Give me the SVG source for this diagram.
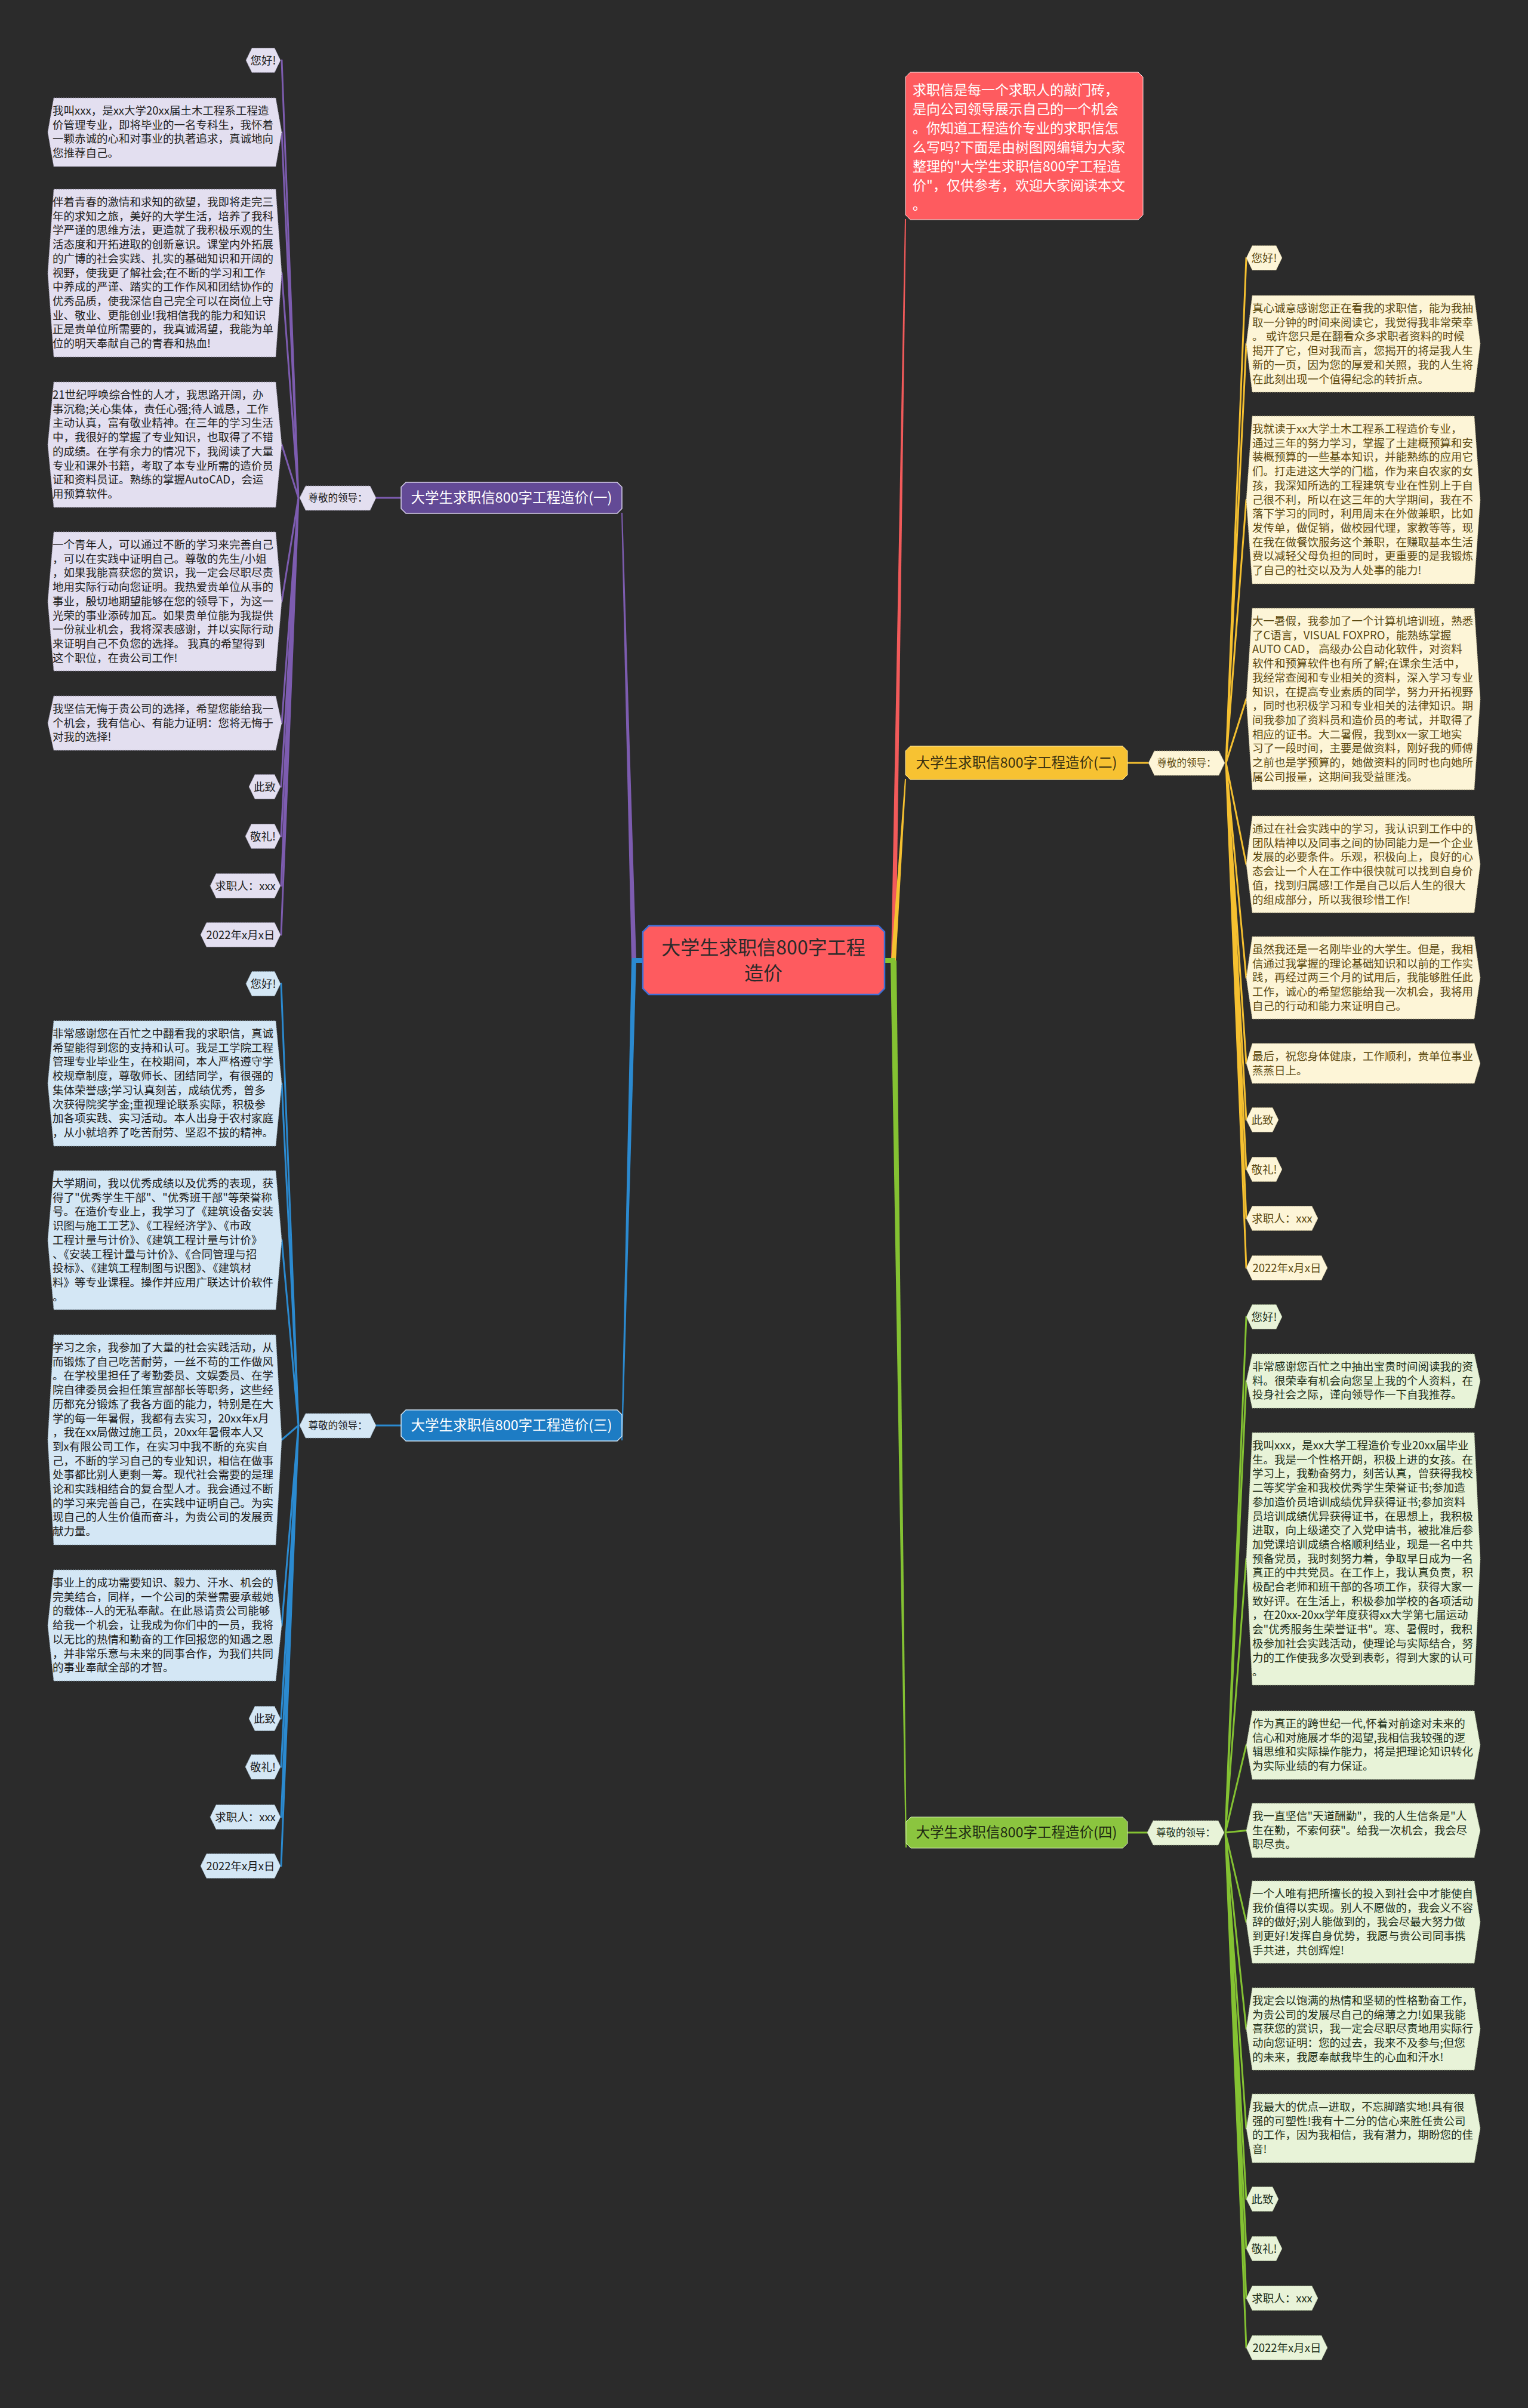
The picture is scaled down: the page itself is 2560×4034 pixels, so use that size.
<svg xmlns="http://www.w3.org/2000/svg" width="2560" height="4034" viewBox="0 0 2560 4034">
<style>
text{font-family:"Noto Sans CJK SC","Noto Sans",sans-serif}
.lt{font-size:18.5px}
.sm{font-size:18.5px;text-anchor:middle}
.sr{font-size:16.5px;text-anchor:middle}
.br{font-size:23.5px;text-anchor:middle}
.pL{fill:#e3dff0;stroke:#8f8aa0;stroke-width:1;stroke-dasharray:2 2}
.pT{fill:#222}
.bL{fill:#d4e7f5;stroke:#8aa0b0;stroke-width:1;stroke-dasharray:2 2}
.bT{fill:#1c1c1c}
.yL{fill:#fdf5d7;stroke:#b0a680;stroke-width:1;stroke-dasharray:2 2}
.yT{fill:#5c4a12}
.gL{fill:#e8f3d8;stroke:#9aab88;stroke-width:1;stroke-dasharray:2 2}
.gT{fill:#22301a}
.cp{stroke:#7d5cb0;stroke-width:3;stroke-linecap:round;fill:none}
.cb{stroke:#2b8ad0;stroke-width:3;stroke-linecap:round;fill:none}
.cy{stroke:#f5c030;stroke-width:3;stroke-linecap:round;fill:none}
.cg{stroke:#84c232;stroke-width:3;stroke-linecap:round;fill:none}
</style>
<rect width="2560" height="4034" fill="#2b2b2b"/>

<g id="connectors">
<polygon points="1493,1609 1501,1609 1518,367 1516,367" fill="#f25a5a"/>
<polygon points="1493,1609 1501,1609 1518,1305 1516,1305" fill="#f5c030"/>
<polygon points="1492,1609 1502,1609 1519,3095 1517,3095" fill="#84c232"/>
<polygon points="1058,1609 1066,1609 1043,859 1041,859" fill="#7d5cb0"/>
<polygon points="1058,1609 1066,1609 1043,2413 1041,2413" fill="#2b8ad0"/>
<rect x="1482" y="1605" width="18" height="8" fill="#84c232"/>
<rect x="1059" y="1605" width="18" height="8" fill="#2b8ad0"/>
<line x1="630" y1="834" x2="672" y2="834" class="cp"/>
<line x1="630" y1="2388" x2="672" y2="2388" class="cb"/>
<line x1="1889" y1="1278" x2="1924" y2="1278" class="cy"/>
<line x1="1889" y1="3070" x2="1922" y2="3070" class="cg"/>
<path class="cp" d="M500 834L472 101M500 834L472 221.5M500 834L472 457.5M500 834L472 745M500 834L472 1007.5M500 834L472 1211.5M500 834L471 1318M500 834L471 1401M500 834L471 1484M500 834L471 1566"/>
<path class="cb" d="M500 2388L471 1648M500 2388L472 1815M500 2388L472 2077.5M500 2388L472 2412M500 2388L472 2723M500 2388L471 2879M500 2388L471 2960M500 2388L471 3044M500 2388L471 3126"/>
<path class="cy" d="M2054 1278L2088 432M2054 1278L2088 576M2054 1278L2088 837.5M2054 1278L2088 1171M2054 1278L2088 1448M2054 1278L2088 1638M2054 1278L2088 1781.5M2054 1278L2088 1876M2054 1278L2088 1959M2054 1278L2088 2041M2054 1278L2088 2124"/>
<path class="cg" d="M2053 3070L2088 2206M2053 3070L2088 2313.5M2053 3070L2088 2611.5M2053 3070L2088 2923.5M2053 3070L2088 3066.5M2053 3070L2088 3220M2053 3070L2088 3399M2053 3070L2088 3565.5M2053 3070L2088 3684M2053 3070L2088 3767M2053 3070L2088 3850M2053 3070L2088 3933"/>
</g>

<g id="root">
<polygon points="1087,1551 1472,1551 1482,1561 1482,1656 1472,1666 1087,1666 1077,1656 1077,1561" fill="#fe5b5f" stroke="#3d6fd6" stroke-width="2.5"/>
<text x="1279" y="1599" font-size="32" text-anchor="middle" fill="#2a2a2a">大学生求职信800字工程</text>
<text x="1279" y="1642" font-size="32" text-anchor="middle" fill="#2a2a2a">造价</text>
</g>

<g id="intro">
<polygon points="1525,121 1907,121 1915,129 1915,360 1907,368 1525,368 1517,360 1517,129" fill="#fe5b5f" stroke="#f4e0e0" stroke-width="1"/>
<text font-size="23" fill="#ffffff" x="1529" y="159"><tspan x="1529" dy="0">求职信是每一个求职人的敲门砖，</tspan><tspan x="1529" dy="32">是向公司领导展示自己的一个机会</tspan><tspan x="1529" dy="32">。你知道工程造价专业的求职信怎</tspan><tspan x="1529" dy="32">么写吗?下面是由树图网编辑为大家</tspan><tspan x="1529" dy="32">整理的"大学生求职信800字工程造</tspan><tspan x="1529" dy="32">价"，仅供参考，欢迎大家阅读本文</tspan><tspan x="1529" dy="32">。</tspan></text>
</g>

<!-- Branch 1 (purple) -->
<g id="b1">
<polygon points="680,808 1034,808 1042,816 1042,852 1034,860 680,860 672,852 672,816" fill="#634a96" stroke="#d8d0ec" stroke-width="1.5"/>
<text class="br" x="857" y="842" fill="#ffffff">大学生求职信800字工程造价(一)</text>
</g>
<g id="b1-s">
<polygon points="512,814 620,814 630,834 620,855 512,855 502,834" class="pL"/>
<text class="sr pT" x="566" y="840">尊敬的领导：</text>
</g>
<g id="b1-1"><polygon points="422,80.5 460,80.5 470,101 460,121.5 422,121.5 412,101" class="pL"/><text class="sm pT" x="441" y="107.5">您好!</text></g>
<g id="b1-2"><polygon points="90,164 462,164 472,221.5 462,279 90,279 80,221.5" class="pL"/>
<text class="lt pT" x="88" y="192"><tspan x="88" dy="0">我叫xxx，是xx大学20xx届土木工程系工程造</tspan><tspan x="88" dy="23.7">价管理专业，即将毕业的一名专科生，我怀着</tspan><tspan x="88" dy="23.7">一颗赤诚的心和对事业的执著追求，真诚地向</tspan><tspan x="88" dy="23.7">您推荐自己。</tspan></text></g>
<g id="b1-3"><polygon points="90,317 462,317 472,457.5 462,598 90,598 80,457.5" class="pL"/>
<text class="lt pT" x="88" y="345"><tspan x="88" dy="0">伴着青春的激情和求知的欲望，我即将走完三</tspan><tspan x="88" dy="23.7">年的求知之旅，美好的大学生活，培养了我科</tspan><tspan x="88" dy="23.7">学严谨的思维方法，更造就了我积极乐观的生</tspan><tspan x="88" dy="23.7">活态度和开拓进取的创新意识。课堂内外拓展</tspan><tspan x="88" dy="23.7">的广博的社会实践、扎实的基础知识和开阔的</tspan><tspan x="88" dy="23.7">视野，使我更了解社会;在不断的学习和工作</tspan><tspan x="88" dy="23.7">中养成的严谨、踏实的工作作风和团结协作的</tspan><tspan x="88" dy="23.7">优秀品质，使我深信自己完全可以在岗位上守</tspan><tspan x="88" dy="23.7">业、敬业、更能创业!我相信我的能力和知识</tspan><tspan x="88" dy="23.7">正是贵单位所需要的，我真诚渴望，我能为单</tspan><tspan x="88" dy="23.7">位的明天奉献自己的青春和热血!</tspan></text></g>
<g id="b1-4"><polygon points="90,640 462,640 472,745 462,850 90,850 80,745" class="pL"/>
<text class="lt pT" x="88" y="668"><tspan x="88" dy="0">21世纪呼唤综合性的人才，我思路开阔，办</tspan><tspan x="88" dy="23.7">事沉稳;关心集体，责任心强;待人诚恳，工作</tspan><tspan x="88" dy="23.7">主动认真，富有敬业精神。在三年的学习生活</tspan><tspan x="88" dy="23.7">中，我很好的掌握了专业知识，也取得了不错</tspan><tspan x="88" dy="23.7">的成绩。在学有余力的情况下，我阅读了大量</tspan><tspan x="88" dy="23.7">专业和课外书籍，考取了本专业所需的造价员</tspan><tspan x="88" dy="23.7">证和资料员证。熟练的掌握AutoCAD，会运</tspan><tspan x="88" dy="23.7">用预算软件。</tspan></text></g>
<g id="b1-5"><polygon points="90,891 462,891 472,1007.5 462,1124 90,1124 80,1007.5" class="pL"/>
<text class="lt pT" x="88" y="919"><tspan x="88" dy="0">一个青年人，可以通过不断的学习来完善自己</tspan><tspan x="88" dy="23.7">，可以在实践中证明自己。尊敬的先生/小姐</tspan><tspan x="88" dy="23.7">，如果我能喜获您的赏识，我一定会尽职尽责</tspan><tspan x="88" dy="23.7">地用实际行动向您证明。我热爱贵单位从事的</tspan><tspan x="88" dy="23.7">事业，殷切地期望能够在您的领导下，为这一</tspan><tspan x="88" dy="23.7">光荣的事业添砖加瓦。如果贵单位能为我提供</tspan><tspan x="88" dy="23.7">一份就业机会，我将深表感谢，并以实际行动</tspan><tspan x="88" dy="23.7">来证明自己不负您的选择。 我真的希望得到</tspan><tspan x="88" dy="23.7">这个职位，在贵公司工作!</tspan></text></g>
<g id="b1-6"><polygon points="90,1166 462,1166 472,1211.5 462,1257 90,1257 80,1211.5" class="pL"/>
<text class="lt pT" x="88" y="1194"><tspan x="88" dy="0">我坚信无悔于贵公司的选择，希望您能给我一</tspan><tspan x="88" dy="23.7">个机会，我有信心、有能力证明：您将无悔于</tspan><tspan x="88" dy="23.7">对我的选择!</tspan></text></g>
<g id="b1-7"><polygon points="427,1297.5 460,1297.5 470,1318 460,1338.5 427,1338.5 417,1318" class="pL"/><text class="sm pT" x="443.5" y="1324.5">此致</text></g>
<g id="b1-8"><polygon points="421,1380.5 460,1380.5 470,1401 460,1421.5 421,1421.5 411,1401" class="pL"/><text class="sm pT" x="440.5" y="1407.5">敬礼!</text></g>
<g id="b1-9"><polygon points="362,1463.5 460,1463.5 470,1484 460,1504.5 362,1504.5 352,1484" class="pL"/><text class="sm pT" x="411" y="1490.5">求职人：xxx</text></g>
<g id="b1-10"><polygon points="346,1545.5 460,1545.5 470,1566 460,1586.5 346,1586.5 336,1566" class="pL"/><text class="sm pT" x="403" y="1572.5">2022年x月x日</text></g>

<!-- Branch 3 (blue) -->
<g id="b3">
<polygon points="680,2362 1034,2362 1042,2370 1042,2406 1034,2414 680,2414 672,2406 672,2370" fill="#1d7cc4" stroke="#cfe3f3" stroke-width="1.5"/>
<text class="br" x="857" y="2396" fill="#ffffff">大学生求职信800字工程造价(三)</text>
</g>
<g id="b3-s">
<polygon points="512,2368 620,2368 630,2388 620,2409 512,2409 502,2388" class="bL"/>
<text class="sr bT" x="566" y="2394">尊敬的领导：</text>
</g>
<g id="b3-1"><polygon points="422,1627.5 460,1627.5 470,1648 460,1668.5 422,1668.5 412,1648" class="bL"/><text class="sm bT" x="441" y="1654.5">您好!</text></g>
<g id="b3-2"><polygon points="90,1710 462,1710 472,1815 462,1920 90,1920 80,1815" class="bL"/>
<text class="lt bT" x="88" y="1738"><tspan x="88" dy="0">非常感谢您在百忙之中翻看我的求职信，真诚</tspan><tspan x="88" dy="23.7">希望能得到您的支持和认可。我是工学院工程</tspan><tspan x="88" dy="23.7">管理专业毕业生，在校期间，本人严格遵守学</tspan><tspan x="88" dy="23.7">校规章制度，尊敬师长、团结同学，有很强的</tspan><tspan x="88" dy="23.7">集体荣誉感;学习认真刻苦，成绩优秀，曾多</tspan><tspan x="88" dy="23.7">次获得院奖学金;重视理论联系实际，积极参</tspan><tspan x="88" dy="23.7">加各项实践、实习活动。本人出身于农村家庭</tspan><tspan x="88" dy="23.7">，从小就培养了吃苦耐劳、坚忍不拔的精神。</tspan></text></g>
<g id="b3-3"><polygon points="90,1961 462,1961 472,2077.5 462,2194 90,2194 80,2077.5" class="bL"/>
<text class="lt bT" x="88" y="1989"><tspan x="88" dy="0">大学期间，我以优秀成绩以及优秀的表现，获</tspan><tspan x="88" dy="23.7">得了"优秀学生干部"、"优秀班干部"等荣誉称</tspan><tspan x="88" dy="23.7">号。在造价专业上，我学习了《建筑设备安装</tspan><tspan x="88" dy="23.7">识图与施工工艺》、《工程经济学》、《市政</tspan><tspan x="88" dy="23.7">工程计量与计价》、《建筑工程计量与计价》</tspan><tspan x="88" dy="23.7">、《安装工程计量与计价》、《合同管理与招</tspan><tspan x="88" dy="23.7">投标》、《建筑工程制图与识图》、《建筑材</tspan><tspan x="88" dy="23.7">料》等专业课程。操作并应用广联达计价软件</tspan><tspan x="88" dy="23.7">。</tspan></text></g>
<g id="b3-4"><polygon points="90,2236 462,2236 472,2412 462,2588 90,2588 80,2412" class="bL"/>
<text class="lt bT" x="88" y="2264"><tspan x="88" dy="0">学习之余，我参加了大量的社会实践活动，从</tspan><tspan x="88" dy="23.7">而锻炼了自己吃苦耐劳，一丝不苟的工作做风</tspan><tspan x="88" dy="23.7">。在学校里担任了考勤委员、文娱委员、在学</tspan><tspan x="88" dy="23.7">院自律委员会担任策宣部部长等职务，这些经</tspan><tspan x="88" dy="23.7">历都充分锻炼了我各方面的能力，特别是在大</tspan><tspan x="88" dy="23.7">学的每一年暑假，我都有去实习，20xx年x月</tspan><tspan x="88" dy="23.7">，我在xx局做过施工员，20xx年暑假本人又</tspan><tspan x="88" dy="23.7">到x有限公司工作，在实习中我不断的充实自</tspan><tspan x="88" dy="23.7">己，不断的学习自己的专业知识，相信在做事</tspan><tspan x="88" dy="23.7">处事都比别人更剩一筹。现代社会需要的是理</tspan><tspan x="88" dy="23.7">论和实践相结合的复合型人才。我会通过不断</tspan><tspan x="88" dy="23.7">的学习来完善自己，在实践中证明自己。为实</tspan><tspan x="88" dy="23.7">现自己的人生价值而奋斗，为贵公司的发展贡</tspan><tspan x="88" dy="23.7">献力量。</tspan></text></g>
<g id="b3-5"><polygon points="90,2630 462,2630 472,2723 462,2816 90,2816 80,2723" class="bL"/>
<text class="lt bT" x="88" y="2658"><tspan x="88" dy="0">事业上的成功需要知识、毅力、汗水、机会的</tspan><tspan x="88" dy="23.7">完美结合，同样，一个公司的荣誉需要承载她</tspan><tspan x="88" dy="23.7">的载体--人的无私奉献。在此恳请贵公司能够</tspan><tspan x="88" dy="23.7">给我一个机会，让我成为你们中的一员，我将</tspan><tspan x="88" dy="23.7">以无比的热情和勤奋的工作回报您的知遇之恩</tspan><tspan x="88" dy="23.7">，并非常乐意与未来的同事合作，为我们共同</tspan><tspan x="88" dy="23.7">的事业奉献全部的才智。</tspan></text></g>
<g id="b3-6"><polygon points="427,2858.5 460,2858.5 470,2879 460,2899.5 427,2899.5 417,2879" class="bL"/><text class="sm bT" x="443.5" y="2885.5">此致</text></g>
<g id="b3-7"><polygon points="421,2939.5 460,2939.5 470,2960 460,2980.5 421,2980.5 411,2960" class="bL"/><text class="sm bT" x="440.5" y="2966.5">敬礼!</text></g>
<g id="b3-8"><polygon points="362,3023.5 460,3023.5 470,3044 460,3064.5 362,3064.5 352,3044" class="bL"/><text class="sm bT" x="411" y="3050.5">求职人：xxx</text></g>
<g id="b3-9"><polygon points="346,3105.5 460,3105.5 470,3126 460,3146.5 346,3146.5 336,3126" class="bL"/><text class="sm bT" x="403" y="3132.5">2022年x月x日</text></g>

<!-- Branch 2 (yellow) -->
<g id="b2">
<polygon points="1525,1250 1881,1250 1889,1258 1889,1298 1881,1306 1525,1306 1517,1298 1517,1258" fill="#f7c232" stroke="#f9e4a0" stroke-width="1"/>
<text class="br" x="1703" y="1286" fill="#3a3010">大学生求职信800字工程造价(二)</text>
</g>
<g id="b2-s">
<polygon points="1934,1258 2042,1258 2052,1278 2042,1299 1934,1299 1924,1278" class="yL"/>
<text class="sr yT" x="1988" y="1284">尊敬的领导：</text>
</g>
<g id="b2-1"><polygon points="2098,411.5 2138,411.5 2148,432 2138,452.5 2098,452.5 2088,432" class="yL"/><text class="sm yT" x="2118" y="438.5">您好!</text></g>
<g id="b2-2"><polygon points="2098,495 2470,495 2480,576 2470,657 2098,657 2088,576" class="yL"/>
<text class="lt yT" x="2098" y="523"><tspan x="2098" dy="0">真心诚意感谢您正在看我的求职信，能为我抽</tspan><tspan x="2098" dy="23.7">取一分钟的时间来阅读它，我觉得我非常荣幸</tspan><tspan x="2098" dy="23.7">。 或许您只是在翻看众多求职者资料的时候</tspan><tspan x="2098" dy="23.7">揭开了它，但对我而言，您揭开的将是我人生</tspan><tspan x="2098" dy="23.7">新的一页，因为您的厚爱和关照，我的人生将</tspan><tspan x="2098" dy="23.7">在此刻出现一个值得纪念的转折点。</tspan></text></g>
<g id="b2-3"><polygon points="2098,697 2470,697 2480,837.5 2470,978 2098,978 2088,837.5" class="yL"/>
<text class="lt yT" x="2098" y="725"><tspan x="2098" dy="0">我就读于xx大学土木工程系工程造价专业，</tspan><tspan x="2098" dy="23.7">通过三年的努力学习，掌握了土建概预算和安</tspan><tspan x="2098" dy="23.7">装概预算的一些基本知识，并能熟练的应用它</tspan><tspan x="2098" dy="23.7">们。打走进这大学的门槛，作为来自农家的女</tspan><tspan x="2098" dy="23.7">孩，我深知所选的工程建筑专业在性别上于自</tspan><tspan x="2098" dy="23.7">己很不利，所以在这三年的大学期间，我在不</tspan><tspan x="2098" dy="23.7">落下学习的同时，利用周末在外做兼职，比如</tspan><tspan x="2098" dy="23.7">发传单，做促销，做校园代理，家教等等，现</tspan><tspan x="2098" dy="23.7">在我在做餐饮服务这个兼职，在赚取基本生活</tspan><tspan x="2098" dy="23.7">费以减轻父母负担的同时，更重要的是我锻炼</tspan><tspan x="2098" dy="23.7">了自己的社交以及为人处事的能力!</tspan></text></g>
<g id="b2-4"><polygon points="2098,1019 2470,1019 2480,1171 2470,1323 2098,1323 2088,1171" class="yL"/>
<text class="lt yT" x="2098" y="1047"><tspan x="2098" dy="0">大一暑假，我参加了一个计算机培训班，熟悉</tspan><tspan x="2098" dy="23.7">了C语言，VISUAL FOXPRO，能熟练掌握</tspan><tspan x="2098" dy="23.7">AUTO CAD， 高级办公自动化软件，对资料</tspan><tspan x="2098" dy="23.7">软件和预算软件也有所了解;在课余生活中，</tspan><tspan x="2098" dy="23.7">我经常查阅和专业相关的资料，深入学习专业</tspan><tspan x="2098" dy="23.7">知识，在提高专业素质的同学，努力开拓视野</tspan><tspan x="2098" dy="23.7">，同时也积极学习和专业相关的法律知识。期</tspan><tspan x="2098" dy="23.7">间我参加了资料员和造价员的考试，并取得了</tspan><tspan x="2098" dy="23.7">相应的证书。大二暑假，我到xx一家工地实</tspan><tspan x="2098" dy="23.7">习了一段时间，主要是做资料，刚好我的师傅</tspan><tspan x="2098" dy="23.7">之前也是学预算的，她做资料的同时也向她所</tspan><tspan x="2098" dy="23.7">属公司报量，这期间我受益匪浅。</tspan></text></g>
<g id="b2-5"><polygon points="2098,1367 2470,1367 2480,1448 2470,1529 2098,1529 2088,1448" class="yL"/>
<text class="lt yT" x="2098" y="1395"><tspan x="2098" dy="0">通过在社会实践中的学习，我认识到工作中的</tspan><tspan x="2098" dy="23.7">团队精神以及同事之间的协同能力是一个企业</tspan><tspan x="2098" dy="23.7">发展的必要条件。乐观，积极向上，良好的心</tspan><tspan x="2098" dy="23.7">态会让一个人在工作中很快就可以找到自身价</tspan><tspan x="2098" dy="23.7">值，找到归属感!工作是自己以后人生的很大</tspan><tspan x="2098" dy="23.7">的组成部分，所以我很珍惜工作!</tspan></text></g>
<g id="b2-6"><polygon points="2098,1569 2470,1569 2480,1638 2470,1707 2098,1707 2088,1638" class="yL"/>
<text class="lt yT" x="2098" y="1597"><tspan x="2098" dy="0">虽然我还是一名刚毕业的大学生。但是，我相</tspan><tspan x="2098" dy="23.7">信通过我掌握的理论基础知识和以前的工作实</tspan><tspan x="2098" dy="23.7">践，再经过两三个月的试用后，我能够胜任此</tspan><tspan x="2098" dy="23.7">工作，诚心的希望您能给我一次机会，我将用</tspan><tspan x="2098" dy="23.7">自己的行动和能力来证明自己。</tspan></text></g>
<g id="b2-7"><polygon points="2098,1748 2470,1748 2480,1781.5 2470,1815 2098,1815 2088,1781.5" class="yL"/>
<text class="lt yT" x="2098" y="1776"><tspan x="2098" dy="0">最后，祝您身体健康，工作顺利，贵单位事业</tspan><tspan x="2098" dy="23.7">蒸蒸日上。</tspan></text></g>
<g id="b2-8"><polygon points="2098,1855.5 2132,1855.5 2142,1876 2132,1896.5 2098,1896.5 2088,1876" class="yL"/><text class="sm yT" x="2115" y="1882.5">此致</text></g>
<g id="b2-9"><polygon points="2098,1938.5 2138,1938.5 2148,1959 2138,1979.5 2098,1979.5 2088,1959" class="yL"/><text class="sm yT" x="2118" y="1965.5">敬礼!</text></g>
<g id="b2-10"><polygon points="2098,2020.5 2198,2020.5 2208,2041 2198,2061.5 2098,2061.5 2088,2041" class="yL"/><text class="sm yT" x="2148" y="2047.5">求职人：xxx</text></g>
<g id="b2-11"><polygon points="2098,2103.5 2214,2103.5 2224,2124 2214,2144.5 2098,2144.5 2088,2124" class="yL"/><text class="sm yT" x="2156" y="2130.5">2022年x月x日</text></g>

<!-- Branch 4 (green) -->
<g id="b4">
<polygon points="1526,3044 1881,3044 1889,3052 1889,3088 1881,3096 1526,3096 1518,3088 1518,3052" fill="#8bc53f" stroke="#d6ebb8" stroke-width="1"/>
<text class="br" x="1703" y="3078" fill="#1f2a12">大学生求职信800字工程造价(四)</text>
</g>
<g id="b4-s">
<polygon points="1932,3050 2041,3050 2051,3070 2041,3091 1932,3091 1922,3070" class="gL"/>
<text class="sr gT" x="1986.5" y="3076">尊敬的领导：</text>
</g>
<g id="b4-1"><polygon points="2098,2185.5 2138,2185.5 2148,2206 2138,2226.5 2098,2226.5 2088,2206" class="gL"/><text class="sm gT" x="2118" y="2212.5">您好!</text></g>
<g id="b4-2"><polygon points="2098,2268 2470,2268 2480,2313.5 2470,2359 2098,2359 2088,2313.5" class="gL"/>
<text class="lt gT" x="2098" y="2296"><tspan x="2098" dy="0">非常感谢您百忙之中抽出宝贵时间阅读我的资</tspan><tspan x="2098" dy="23.7">料。很荣幸有机会向您呈上我的个人资料，在</tspan><tspan x="2098" dy="23.7">投身社会之际，谨向领导作一下自我推荐。</tspan></text></g>
<g id="b4-3"><polygon points="2098,2400 2470,2400 2480,2611.5 2470,2823 2098,2823 2088,2611.5" class="gL"/>
<text class="lt gT" x="2098" y="2428"><tspan x="2098" dy="0">我叫xxx，是xx大学工程造价专业20xx届毕业</tspan><tspan x="2098" dy="23.7">生。我是一个性格开朗，积极上进的女孩。在</tspan><tspan x="2098" dy="23.7">学习上，我勤奋努力，刻苦认真，曾获得我校</tspan><tspan x="2098" dy="23.7">二等奖学金和我校优秀学生荣誉证书;参加造</tspan><tspan x="2098" dy="23.7">参加造价员培训成绩优异获得证书;参加资料</tspan><tspan x="2098" dy="23.7">员培训成绩优异获得证书，在思想上，我积极</tspan><tspan x="2098" dy="23.7">进取，向上级递交了入党申请书，被批准后参</tspan><tspan x="2098" dy="23.7">加党课培训成绩合格顺利结业，现是一名中共</tspan><tspan x="2098" dy="23.7">预备党员，我时刻努力着，争取早日成为一名</tspan><tspan x="2098" dy="23.7">真正的中共党员。在工作上，我认真负责，积</tspan><tspan x="2098" dy="23.7">极配合老师和班干部的各项工作，获得大家一</tspan><tspan x="2098" dy="23.7">致好评。在生活上，积极参加学校的各项活动</tspan><tspan x="2098" dy="23.7">，在20xx-20xx学年度获得xx大学第七届运动</tspan><tspan x="2098" dy="23.7">会"优秀服务生荣誉证书"。寒、暑假时，我积</tspan><tspan x="2098" dy="23.7">极参加社会实践活动，使理论与实际结合，努</tspan><tspan x="2098" dy="23.7">力的工作使我多次受到表彰，得到大家的认可</tspan><tspan x="2098" dy="23.7">。</tspan></text></g>
<g id="b4-4"><polygon points="2098,2866 2470,2866 2480,2923.5 2470,2981 2098,2981 2088,2923.5" class="gL"/>
<text class="lt gT" x="2098" y="2894"><tspan x="2098" dy="0">作为真正的跨世纪一代,怀着对前途对未来的</tspan><tspan x="2098" dy="23.7">信心和对施展才华的渴望,我相信我较强的逻</tspan><tspan x="2098" dy="23.7">辑思维和实际操作能力，将是把理论知识转化</tspan><tspan x="2098" dy="23.7">为实际业绩的有力保证。</tspan></text></g>
<g id="b4-5"><polygon points="2098,3021 2470,3021 2480,3066.5 2470,3112 2098,3112 2088,3066.5" class="gL"/>
<text class="lt gT" x="2098" y="3049"><tspan x="2098" dy="0">我一直坚信"天道酬勤"，我的人生信条是"人</tspan><tspan x="2098" dy="23.7">生在勤，不索何获"。给我一次机会，我会尽</tspan><tspan x="2098" dy="23.7">职尽责。</tspan></text></g>
<g id="b4-6"><polygon points="2098,3151 2470,3151 2480,3220 2470,3289 2098,3289 2088,3220" class="gL"/>
<text class="lt gT" x="2098" y="3179"><tspan x="2098" dy="0">一个人唯有把所擅长的投入到社会中才能使自</tspan><tspan x="2098" dy="23.7">我价值得以实现。别人不愿做的，我会义不容</tspan><tspan x="2098" dy="23.7">辞的做好;别人能做到的，我会尽最大努力做</tspan><tspan x="2098" dy="23.7">到更好!发挥自身优势，我愿与贵公司同事携</tspan><tspan x="2098" dy="23.7">手共进，共创辉煌!</tspan></text></g>
<g id="b4-7"><polygon points="2098,3330 2470,3330 2480,3399 2470,3468 2098,3468 2088,3399" class="gL"/>
<text class="lt gT" x="2098" y="3358"><tspan x="2098" dy="0">我定会以饱满的热情和坚韧的性格勤奋工作，</tspan><tspan x="2098" dy="23.7">为贵公司的发展尽自己的绵薄之力!如果我能</tspan><tspan x="2098" dy="23.7">喜获您的赏识，我一定会尽职尽责地用实际行</tspan><tspan x="2098" dy="23.7">动向您证明：您的过去，我来不及参与;但您</tspan><tspan x="2098" dy="23.7">的未来，我愿奉献我毕生的心血和汗水!</tspan></text></g>
<g id="b4-8"><polygon points="2098,3508 2470,3508 2480,3565.5 2470,3623 2098,3623 2088,3565.5" class="gL"/>
<text class="lt gT" x="2098" y="3536"><tspan x="2098" dy="0">我最大的优点—进取，不忘脚踏实地!具有很</tspan><tspan x="2098" dy="23.7">强的可塑性!我有十二分的信心来胜任贵公司</tspan><tspan x="2098" dy="23.7">的工作，因为我相信，我有潜力，期盼您的佳</tspan><tspan x="2098" dy="23.7">音!</tspan></text></g>
<g id="b4-9"><polygon points="2098,3663.5 2132,3663.5 2142,3684 2132,3704.5 2098,3704.5 2088,3684" class="gL"/><text class="sm gT" x="2115" y="3690.5">此致</text></g>
<g id="b4-10"><polygon points="2098,3746.5 2138,3746.5 2148,3767 2138,3787.5 2098,3787.5 2088,3767" class="gL"/><text class="sm gT" x="2118" y="3773.5">敬礼!</text></g>
<g id="b4-11"><polygon points="2098,3829.5 2198,3829.5 2208,3850 2198,3870.5 2098,3870.5 2088,3850" class="gL"/><text class="sm gT" x="2148" y="3856.5">求职人：xxx</text></g>
<g id="b4-12"><polygon points="2098,3912.5 2214,3912.5 2224,3933 2214,3953.5 2098,3953.5 2088,3933" class="gL"/><text class="sm gT" x="2156" y="3939.5">2022年x月x日</text></g>
</svg>
